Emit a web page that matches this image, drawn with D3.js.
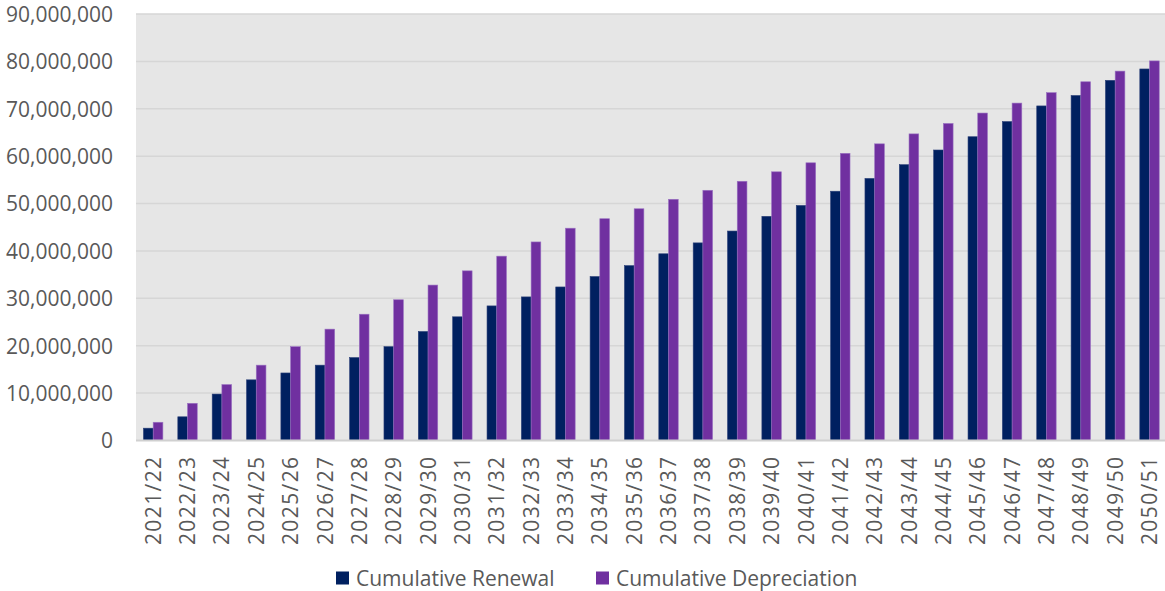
<!DOCTYPE html>
<html>
<head>
<meta charset="utf-8">
<script src="https://cdn.jsdelivr.net/npm/d3@7"></script>
<style>
  html, body { margin: 0; padding: 0; background: #ffffff; }
  svg { display: block; }
  text { font-family: "Open Sans", "Noto Sans", sans-serif; fill: #595959; }
</style>
</head>
<body>
<svg id="chart" width="1165" height="591"></svg>
<script>
const categories = ["2021/22","2022/23","2023/24","2024/25","2025/26","2026/27","2027/28","2028/29","2029/30","2030/31",
  "2031/32","2032/33","2033/34","2034/35","2035/36","2036/37","2037/38","2038/39","2039/40","2040/41",
  "2041/42","2042/43","2043/44","2044/45","2045/46","2046/47","2047/48","2048/49","2049/50","2050/51"];
const cumulativeRenewal = [2.6e6, 5.0e6, 9.8e6, 12.8e6, 14.25e6, 15.9e6, 17.5e6, 19.8e6, 23.0e6, 26.1e6,
  28.4e6, 30.3e6, 32.4e6, 34.6e6, 36.9e6, 39.4e6, 41.7e6, 44.2e6, 47.3e6, 49.6e6,
  52.6e6, 55.3e6, 58.2e6, 61.3e6, 64.1e6, 67.3e6, 70.6e6, 72.8e6, 76.0e6, 78.4e6];
const cumulativeDepreciation = [3.85e6, 7.85e6, 11.8e6, 15.9e6, 19.8e6, 23.5e6, 26.65e6, 29.7e6, 32.8e6, 35.8e6,
  38.9e6, 41.9e6, 44.8e6, 46.8e6, 48.9e6, 50.9e6, 52.8e6, 54.7e6, 56.7e6, 58.6e6,
  60.6e6, 62.6e6, 64.7e6, 66.9e6, 69.1e6, 71.2e6, 73.4e6, 75.7e6, 77.95e6, 80.1e6];
const yTicks = [0, 10e6, 20e6, 30e6, 40e6, 50e6, 60e6, 70e6, 80e6, 90e6];
const seriesNames = ["Cumulative Renewal", "Cumulative Depreciation"];
const seriesColors = ["#002060", "#7030A0"];
const seriesStrokes = ["#2a3f78", "#9a72c2"];

const svg = d3.select("#chart");
const plot = { left: 136, right: 1166.7, top: 14, bottom: 440.5 };

const x0 = d3.scaleBand().domain(categories).range([plot.left, plot.right])
  .paddingInner(0.435).paddingOuter(0.2175);
const x1 = d3.scaleBand().domain(seriesNames).range([0, x0.bandwidth()]).padding(0);
const y = d3.scaleLinear().domain([0, 90e6]).range([plot.bottom, plot.top]);

// plot background
svg.append("rect").attr("x", plot.left).attr("y", plot.top)
  .attr("width", plot.right - plot.left).attr("height", plot.bottom - plot.top)
  .attr("fill", "#e6e6e6");

// gridlines
svg.append("g").selectAll("line").data(yTicks.filter(d => d > 0)).join("line")
  .attr("x1", plot.left).attr("x2", plot.right)
  .attr("y1", d => y(d)).attr("y2", d => y(d))
  .attr("stroke", "#d6d6d6").attr("stroke-width", 1.5);

// bars
const rows = categories.map((c, i) => ({ cat: c, vals: [cumulativeRenewal[i], cumulativeDepreciation[i]] }));
const groups = svg.append("g").selectAll("g").data(rows).join("g")
  .attr("transform", d => `translate(${x0(d.cat)},0)`);
groups.selectAll("rect").data(d => d.vals.map((v, k) => ({ k, v }))).join("rect")
  .attr("x", d => x1(seriesNames[d.k]))
  .attr("width", x1.bandwidth())
  .attr("y", d => y(d.v))
  .attr("height", d => y(0) - y(d.v))
  .attr("fill", d => seriesColors[d.k])
  .attr("stroke", d => seriesStrokes[d.k])
  .attr("stroke-width", 0.6);

// x axis baseline
svg.append("line").attr("x1", plot.left).attr("x2", plot.right)
  .attr("y1", plot.bottom).attr("y2", plot.bottom)
  .attr("stroke", "#d0d0d0").attr("stroke-width", 2);

// y axis
const yAxis = d3.axisLeft(y).tickValues(yTicks).tickSize(0).tickPadding(0)
  .tickFormat(d3.format(","));
const gy = svg.append("g").attr("transform", `translate(${plot.left - 23},0)`).call(yAxis);
gy.select(".domain").remove();
gy.selectAll("text").attr("font-size", "21px").attr("fill", "#595959")
  .attr("font-family", "'Open Sans', sans-serif").attr("dy", "0.35em");

// x axis
const xAxis = d3.axisBottom(x0).tickSize(0).tickPadding(0);
const gx = svg.append("g").attr("transform", `translate(0,${plot.bottom})`).call(xAxis);
gx.select(".domain").remove();
gx.selectAll("text")
  .attr("font-size", "21px").attr("fill", "#595959")
  .attr("font-family", "'Open Sans', sans-serif")
  .attr("letter-spacing", "1.4px")
  .attr("text-anchor", "end")
  .attr("transform", "rotate(-90)")
  .attr("x", -15).attr("y", 0).attr("dy", "0.36em");

// legend
const legendItems = [{ name: seriesNames[0], color: seriesColors[0], x: 336 }, { name: seriesNames[1], color: seriesColors[1], x: 596 }];
const lg = svg.append("g").selectAll("g").data(legendItems).join("g")
  .attr("transform", d => `translate(${d.x},571.5)`);
lg.append("rect").attr("width", 13).attr("height", 13).attr("fill", d => d.color);
lg.append("text").attr("x", 20).attr("y", 6.5).attr("dy", "0.36em")
  .attr("font-size", "21px").text(d => d.name);
</script>
</body>
</html>
